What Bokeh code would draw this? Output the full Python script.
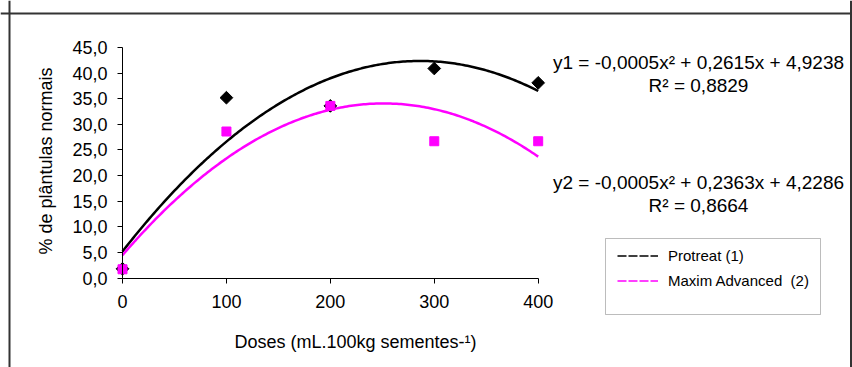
import numpy as np
from bokeh.plotting import figure
from bokeh.models import (ColumnDataSource, FixedTicker, Label, Span, BoxAnnotation,
                          Legend, LegendItem, Range1d)
from bokeh.embed import file_html
from bokeh.resources import INLINE

# ---------------- data ----------------
doses = [0, 100, 200, 300, 400]
protreat = [1.8, 35.2, 33.6, 40.9, 38.1]
maxim = [1.7, 28.6, 33.6, 26.7, 26.7]
x_ticks = [0, 100, 200, 300, 400]
x_tick_labels = ["0", "100", "200", "300", "400"]
y_ticks = [0, 5, 10, 15, 20, 25, 30, 35, 40, 45]
y_tick_labels = ["0,0", "5,0", "10,0", "15,0", "20,0", "25,0", "30,0", "35,0", "40,0", "45,0"]
series_names = ["Protreat (1)", "Maxim Advanced  (2)"]
eq1 = "y1 = -0,0005x² + 0,2615x + 4,9238"
r2_1 = "R² = 0,8829"
eq2 = "y2 = -0,0005x² + 0,2363x + 4,2286"
r2_2 = "R² = 0,8664"
x_title = "Doses (mL.100kg sementes-¹)"
y_title = "% de plântulas normais"

# ---------------- layout (canvas pixels) ----------------
W, H = 852, 367
X0_PX, X400_PX = 122.0, 537.7
Y0_PX, Y45_PX = 277.5, 47.0
sx = (X400_PX - X0_PX) / 400.0
sy = (Y0_PX - Y45_PX) / 45.0


def dx(px):
    return (px - X0_PX) / sx


def dy(py):
    return (Y0_PX - py) / sy


FONT = "Liberation Sans"
MAGENTA = "#FF00FF"

p = figure(width=W, height=H, output_backend="svg", toolbar_location=None,
           x_range=Range1d(dx(0), dx(W)), y_range=Range1d(dy(H), dy(0)),
           min_border_left=0, min_border_right=0, min_border_top=0, min_border_bottom=0)
p.outline_line_color = None
p.background_fill_color = "white"
p.border_fill_color = "white"
p.xgrid.visible = False
p.ygrid.visible = False

# axes at fixed location inside the frame
for ax in (p.xaxis[0], p.yaxis[0]):
    ax.fixed_location = 0
    ax.axis_line_color = "black"
    ax.axis_line_width = 1
    ax.major_tick_line_color = "black"
    ax.major_tick_in = 0
    ax.major_tick_out = 5
    ax.minor_tick_line_color = None
    ax.major_label_text_font = FONT
    ax.major_label_text_font_size = "18px"
    ax.major_label_text_color = "black"

p.xaxis.bounds = (0, 400)
p.yaxis.bounds = (0, 45)
p.xaxis.ticker = FixedTicker(ticks=x_ticks)
p.yaxis.ticker = FixedTicker(ticks=y_ticks)
p.xaxis.major_label_overrides = {t: l for t, l in zip(x_ticks, x_tick_labels)}
p.yaxis.major_label_overrides = {t: l for t, l in zip(y_ticks, y_tick_labels)}
p.xaxis.major_label_standoff = 12
p.yaxis.major_label_standoff = 10

# trend lines (quadratic fits of the data)
xs = np.linspace(0, 400, 201)
c1 = np.polyfit(doses, protreat, 2)
c2 = np.polyfit(doses, maxim, 2)
p.line(xs, np.polyval(c1, xs), line_color="black", line_width=2.5)
p.line(xs, np.polyval(c2, xs), line_color=MAGENTA, line_width=2.5)

src = ColumnDataSource(dict(x=doses, p=protreat, m=maxim))
p.scatter("x", "p", source=src, marker="square", angle=np.pi / 4, size=9,
          fill_color="black", line_color="black")
p.scatter("x", "m", source=src, marker="square", size=9,
          fill_color=MAGENTA, line_color=MAGENTA)

# equations
for txt, py in ((eq1, 62.3), (r2_1, 85), (eq2, 181.7), (r2_2, 205)):
    p.add_layout(Label(x=dx(698), y=dy(py), text=txt, text_align="center",
                       text_baseline="alphabetic", text_font=FONT,
                       text_font_size="19px", text_color="black"))

# axis titles
p.add_layout(Label(x=dx(355), y=dy(341.7), text=x_title, text_align="center",
                   text_baseline="alphabetic", text_font=FONT, text_font_size="18px",
                   text_color="black"))
p.add_layout(Label(x=dx(45), y=dy(160.5), text=y_title, angle=np.pi / 2,
                   text_align="center", text_baseline="middle", text_font=FONT,
                   text_font_size="18px", text_color="black"))

# outer border
p.add_layout(Span(location=dx(9), dimension="height", line_color="#333333", line_width=2))
p.add_layout(Span(location=dx(850.5), dimension="height", line_color="#333333", line_width=2))
p.add_layout(Span(location=dy(13), dimension="width", line_color="#333333", line_width=2))

# legend box
p.add_layout(BoxAnnotation(left=dx(605), right=dx(820), top=dy(238),
                           bottom=dy(314), fill_color="white", fill_alpha=1,
                           line_color="#222222", line_width=1))

# legend sample renderers (draw nothing in the plot)
leg_src = ColumnDataSource(dict(x=[doses[0]], y=[np.nan]))
r_leg1 = p.line("x", "y", source=leg_src, line_color="black", line_width=1.5, line_dash="9 2")
r_leg2 = p.line("x", "y", source=leg_src, line_color=MAGENTA, line_width=1.5, line_dash="9 2")
legend = Legend(items=[LegendItem(label=series_names[0], renderers=[r_leg1]),
                       LegendItem(label=series_names[1], renderers=[r_leg2])],
                location=(617, H - 292.5), orientation="vertical",
                padding=0, margin=0, spacing=0, glyph_width=41, glyph_height=25,
                label_height=25, label_standoff=10, border_line_color=None,
                background_fill_alpha=0, label_text_font=FONT,
                label_text_font_size="15px", label_text_color="black")
p.add_layout(legend)

open("out.html", "w").write(file_html(p, INLINE))
